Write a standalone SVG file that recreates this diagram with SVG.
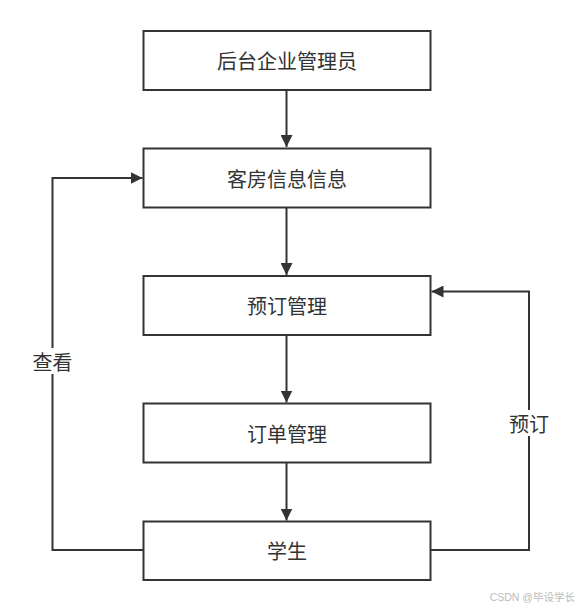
<svg xmlns="http://www.w3.org/2000/svg" width="581" height="611" viewBox="0 0 581 611">
<style>
.box{fill:#fff;stroke:#333;stroke-width:2}
.t{font-family:"Noto Sans CJK SC","Noto Sans",sans-serif;font-size:20px;fill:#333;text-anchor:middle;dominant-baseline:central}
.c{fill:none;stroke:#333;stroke-width:2}
.lbl{fill:#fff}
</style>
<defs>
<marker id="ah" viewBox="0 0 12 12" refX="12" refY="6" markerWidth="12" markerHeight="12" markerUnits="userSpaceOnUse" orient="auto">
<path d="M0,0 L12,6 L0,12 Z" fill="#333"/>
</marker>
</defs>
<rect width="581" height="611" fill="#fff"/>
<g id="connectors">
<path class="c" d="M286.5,90 V147" marker-end="url(#ah)"/>
<path class="c" d="M286.5,207.5 V275" marker-end="url(#ah)"/>
<path class="c" d="M286.5,335 V402.5" marker-end="url(#ah)"/>
<path class="c" d="M286.5,462.5 V520.5" marker-end="url(#ah)"/>
<path class="c" d="M143.5,550 H52.5 V178 H142.5" marker-end="url(#ah)"/>
<path class="c" d="M430.5,550 H529 V291.5 H431.5" marker-end="url(#ah)"/>
<rect class="lbl" x="30" y="348" width="46" height="26"/>
<text class="t" x="52.5" y="361">查看</text>
<rect class="lbl" x="505" y="410" width="48" height="26"/>
<text class="t" x="529" y="423">预订</text>
</g>
<g id="n1"><rect class="box" x="143.5" y="31" width="287" height="59"/><text class="t" x="287" y="60.5">后台企业管理员</text></g>
<g id="n2"><rect class="box" x="143.5" y="148.5" width="287" height="59"/><text class="t" x="287" y="178">客房信息信息</text></g>
<g id="n3"><rect class="box" x="143.5" y="276" width="287" height="59"/><text class="t" x="287" y="305.5">预订管理</text></g>
<g id="n4"><rect class="box" x="143.5" y="403.5" width="287" height="59"/><text class="t" x="287" y="433">订单管理</text></g>
<g id="n5"><rect class="box" x="143.5" y="521.5" width="287" height="58.5"/><text class="t" x="287" y="550.5">学生</text></g>
<text x="575" y="601" font-family="'Liberation Sans','Noto Sans CJK SC',sans-serif" font-size="10.5" fill="#bbb" text-anchor="end">CSDN @毕设学长</text>
</svg>
